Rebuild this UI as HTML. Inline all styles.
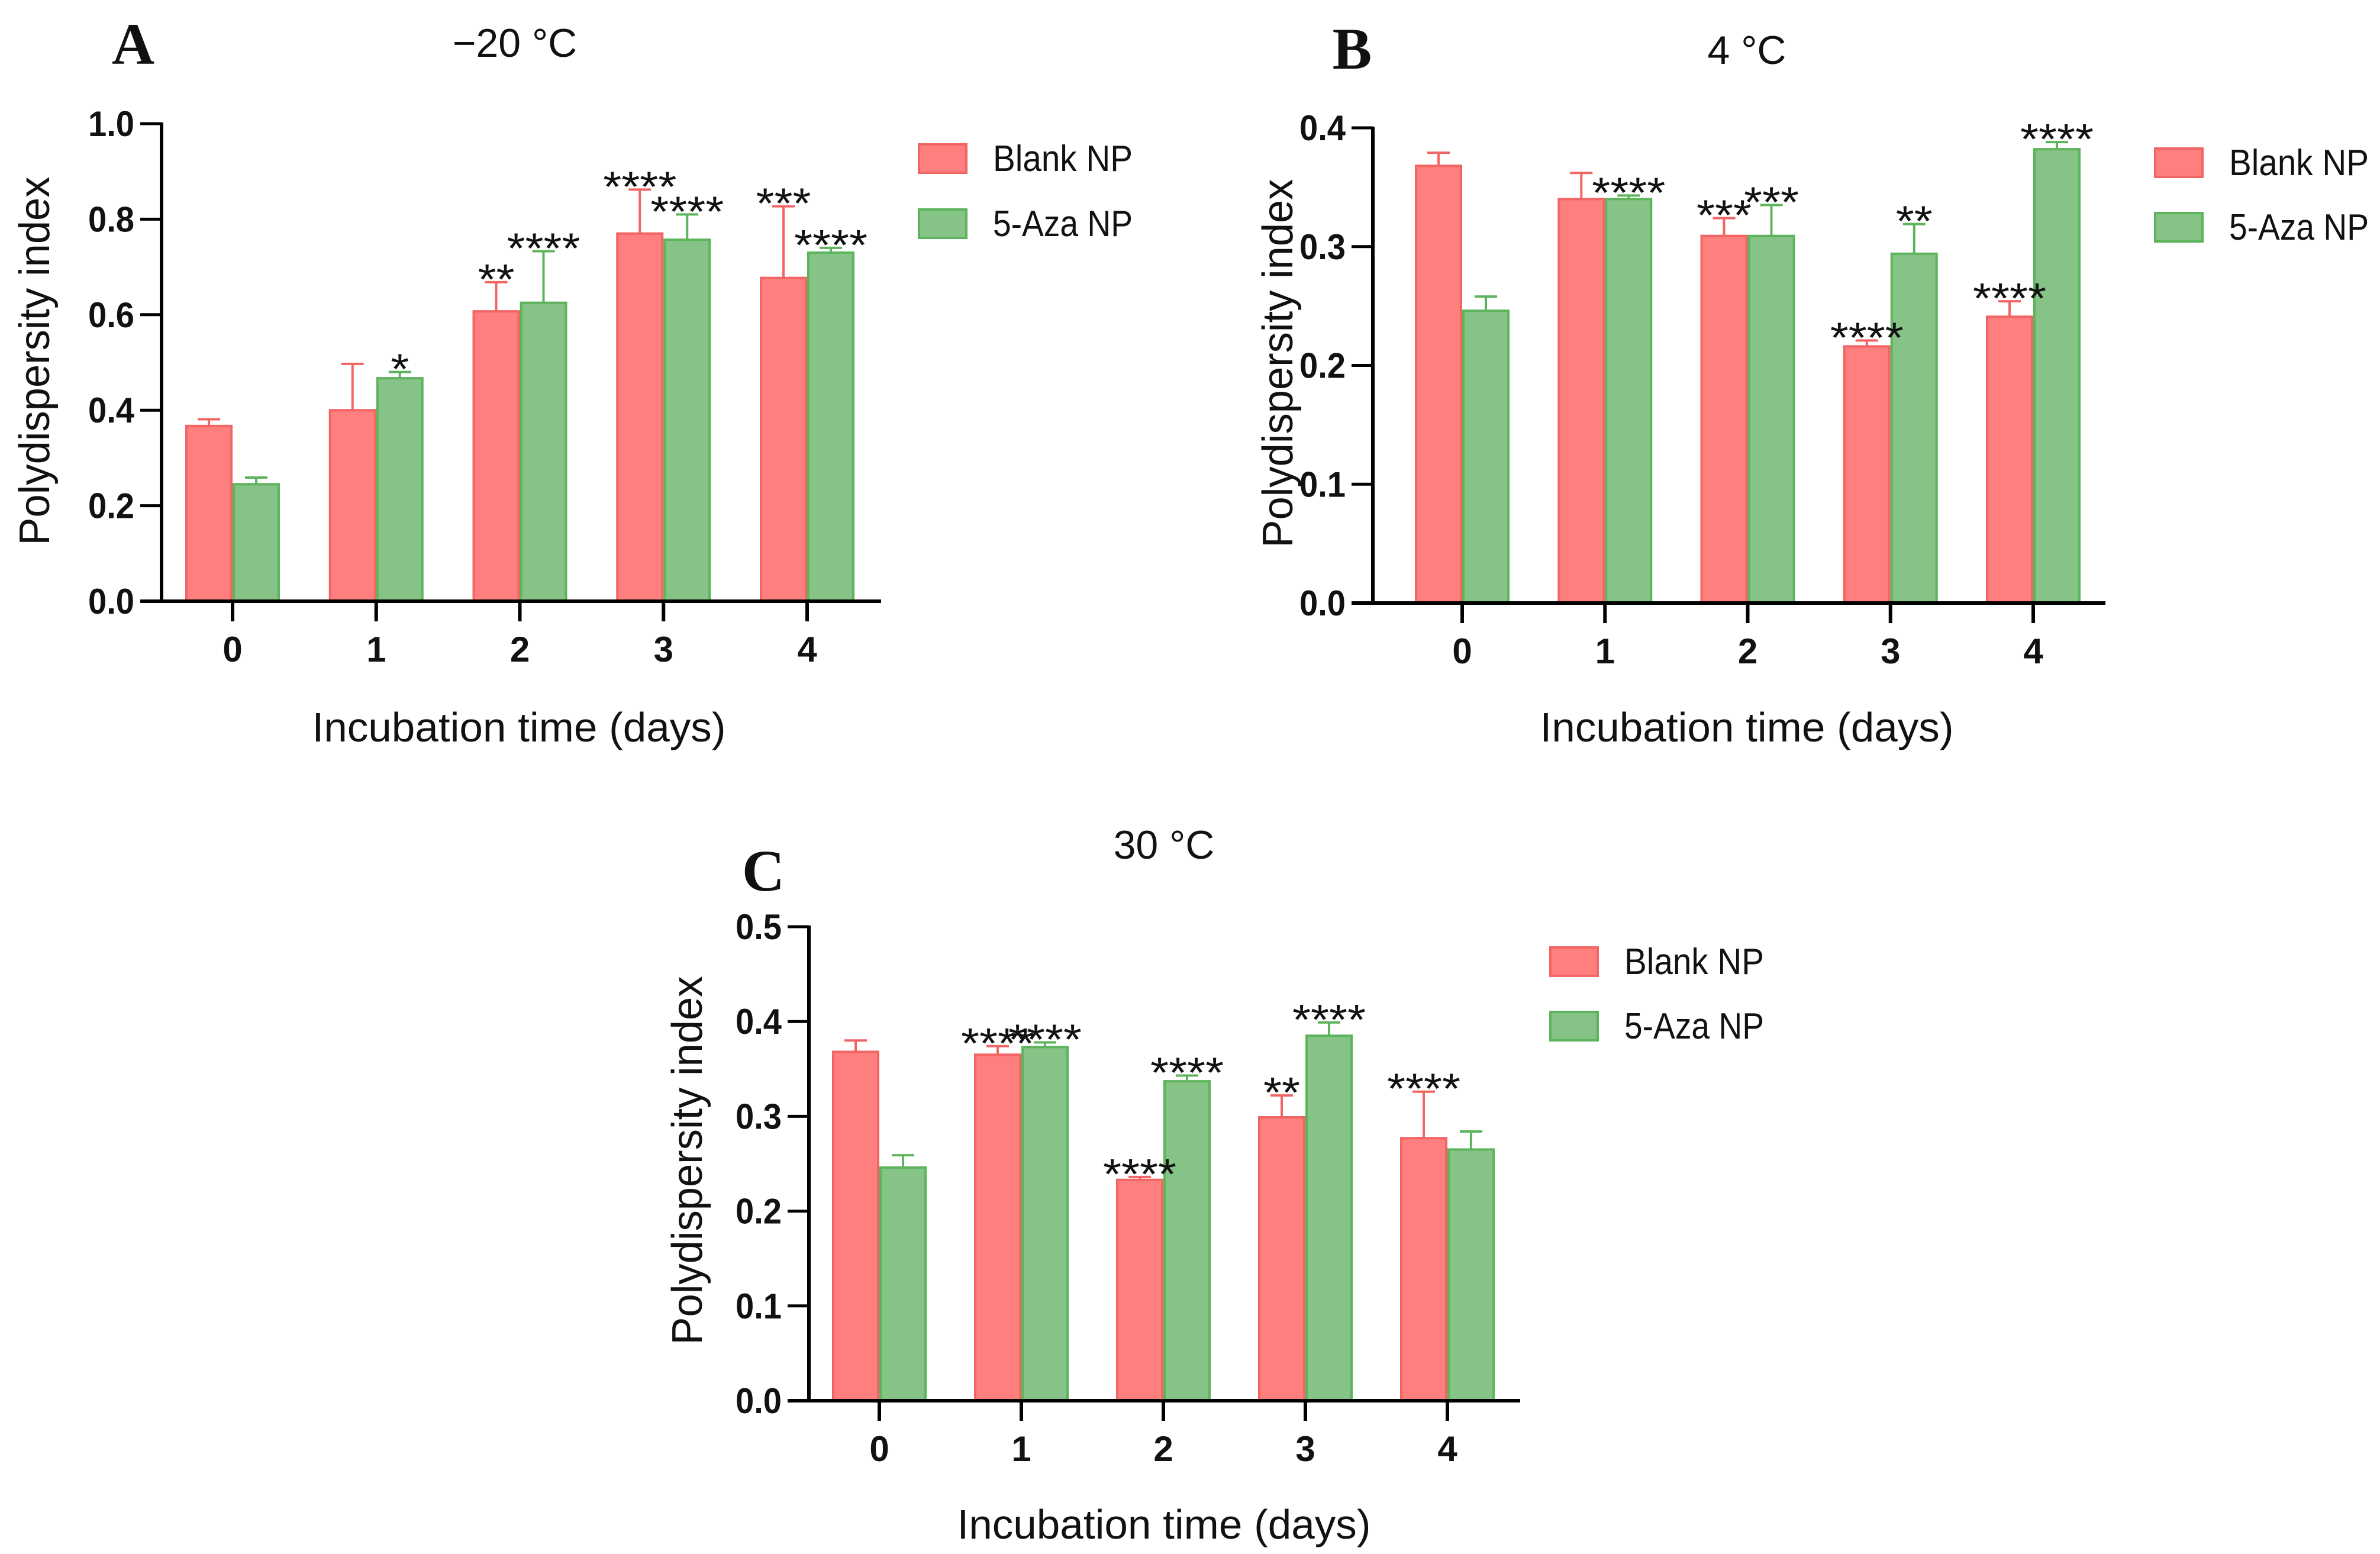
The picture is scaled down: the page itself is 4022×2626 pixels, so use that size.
<!DOCTYPE html>
<html><head><meta charset="utf-8"><style>
html,body{margin:0;padding:0;background:#fff;}
svg{display:block;}
text{font-family:"Liberation Sans",sans-serif;fill:#111;}
</style></head><body>
<svg id="fig" xmlns="http://www.w3.org/2000/svg" width="4022" height="2626" viewBox="0 0 4022 2626">
<rect width="4022" height="2626" fill="#fff"/>
</svg>
<script>
const categories = ["0","1","2","3","4"];
const seriesNames = ["Blank NP","5-Aza NP"];
// Panel A (-20 °C)
const aBlank = [0.367, 0.400, 0.607, 0.770, 0.677];
const aBlankErr = [0.014, 0.097, 0.061, 0.092, 0.150];
const aAza = [0.245, 0.467, 0.625, 0.757, 0.730];
const aAzaErr = [0.014, 0.013, 0.108, 0.053, 0.010];
const aBlankStars = ["", "", "**", "****", "***"];
const aAzaStars = ["", "*", "****", "****", "****"];
const aTicks = ["0.0","0.2","0.4","0.6","0.8","1.0"];
// Panel B (4 °C)
const bBlank = [0.368, 0.340, 0.309, 0.216, 0.241];
const bBlankErr = [0.011, 0.022, 0.015, 0.005, 0.013];
const bAza = [0.246, 0.340, 0.309, 0.294, 0.382];
const bAzaErr = [0.012, 0.003, 0.026, 0.025, 0.006];
const bBlankStars = ["", "", "***", "****", "****"];
const bAzaStars = ["", "****", "***", "**", "****"];
const bTicks = ["0.0","0.1","0.2","0.3","0.4"];
// Panel C (30 °C)
const cBlank = [0.368, 0.365, 0.233, 0.299, 0.277];
const cBlankErr = [0.012, 0.009, 0.003, 0.023, 0.049];
const cAza = [0.246, 0.373, 0.337, 0.385, 0.265];
const cAzaErr = [0.013, 0.005, 0.006, 0.014, 0.019];
const cBlankStars = ["", "****", "****", "**", "****"];
const cAzaStars = ["", "****", "****", "****", ""];
const cTicks = ["0.0","0.1","0.2","0.3","0.4","0.5"];

const NS = "http://www.w3.org/2000/svg";
const svg = document.getElementById('fig');
function mk(tag, attrs, parent, txt){
  const e = document.createElementNS(NS, tag);
  for (const k in attrs) e.setAttribute(k, attrs[k]);
  if (txt !== undefined) e.textContent = txt;
  (parent || svg).appendChild(e);
  return e;
}
const RED = "#FF7F7F", REDS = "#F26565", GRN = "#86C386", GRNS = "#5DB45D";

function panel(p){
  const g = mk('g', {});
  
  
  const yMax = parseFloat(p.ticks[p.ticks.length-1]);
  const yS = v => p.y0 - (p.y0 - p.yTop) * v / yMax;
  const xS = i => p.cat0 + p.step * i;
  const bw = 80;
  const series = [[p.blank, p.blankErr, p.blankStars, RED, REDS, -1, 'blank'], [p.aza, p.azaErr, p.azaStars, GRN, GRNS, 0, 'aza']];
  series.forEach(s => {
    s[0].forEach((v, i) => {
      const x = xS(i) + s[5] * bw;
      const top = yS(v), et = yS(v + s[1][i]);
      const eb = mk('line', {x1: x + bw/2, x2: x + bw/2, y1: top, y2: et, stroke: s[4], 'stroke-width': 4}, g);
      
      
      const cap = mk('line', {x1: x + bw/2 - 19, x2: x + bw/2 + 19, y1: et, y2: et, stroke: s[4], 'stroke-width': 4}, g);
      
      
      const r = mk('rect', {x: x + 2, y: top, width: bw - 4, height: p.y0 - top, fill: s[3], stroke: s[4], 'stroke-width': 4}, g);
      
      
    });
  });
  series.forEach(s => {
    s[0].forEach((v, i) => {
      const x = xS(i) + s[5] * bw;
      const et = yS(v + s[1][i]);
      const st = s[2][i];
      if (st) {
        const t = mk('text', {x: x + bw/2, y: et + 20, 'text-anchor': 'middle', 'font-size': 72, textLength: st.length * 31, lengthAdjust: 'spacingAndGlyphs'}, g, st);
        
        
      }
    });
  });
  // axes
  const ya = mk('line', {x1: p.axX, x2: p.axX, y1: p.yTop - 2, y2: p.y0 + 3, stroke: '#000', 'stroke-width': 6}, g);
  
  
  const xa = mk('line', {x1: p.axX - 36, x2: p.xEnd, y1: p.y0, y2: p.y0, stroke: '#000', 'stroke-width': 6}, g);
  
  
  p.ticks.forEach(t => {
    const y = yS(parseFloat(t));
    const tl = mk('line', {x1: p.axX - 36, x2: p.axX, y1: y, y2: y, stroke: '#000', 'stroke-width': 5}, g);
    
    
    const tx = mk('text', {x: p.axX - 46, y: y + 21, 'text-anchor': 'end', 'font-size': 60, 'font-weight': 'bold', textLength: 78, lengthAdjust: 'spacingAndGlyphs'}, g, t);
    
    
  });
  categories.forEach((c, i) => {
    const x = xS(i);
    const tl = mk('line', {x1: x, x2: x, y1: p.y0, y2: p.y0 + 34, stroke: '#000', 'stroke-width': 6}, g);
    
    
    const tx = mk('text', {x: x, y: p.y0 + 102, 'text-anchor': 'middle', 'font-size': 60, 'font-weight': 'bold'}, g, c);
    
    
  });
  const yt = mk('text', {x: 0, y: 0, 'text-anchor': 'middle', 'font-size': 72, textLength: 623, lengthAdjust: 'spacingAndGlyphs', transform: 'translate(' + (p.ytX + 25) + ',' + p.ytY + ') rotate(-90)'}, g, 'Polydispersity index');
  
  
  const xt = mk('text', {x: p.xtX, y: p.xtY + 24, 'text-anchor': 'middle', 'font-size': 70, textLength: 699, lengthAdjust: 'spacingAndGlyphs'}, g, 'Incubation time (days)');
  
  
  const ti = mk('text', {x: p.tX, y: p.tY + 24, 'text-anchor': 'middle', 'font-size': 68}, g, p.title);
  
  
  const le = mk('text', {x: p.lX, y: p.lY + 32, 'text-anchor': 'middle', 'font-size': 100, 'font-weight': 'bold', style: 'font-family:"Liberation Serif",serif'}, g, p.id);
  
  
  // legend
  [[RED, REDS, p.legY[0]], [GRN, GRNS, p.legY[1]]].forEach((l, k) => {
    const sw = mk('rect', {x: p.legX, y: l[2], width: 80, height: 48, fill: l[0], stroke: l[1], 'stroke-width': 4}, g);
    
    
    const lt = mk('text', {x: p.legX + 125, y: l[2] + 45, 'font-size': 62, textLength: 236, lengthAdjust: 'spacingAndGlyphs'}, g, seriesNames[k]);
    
    
  });
}

panel({id:'A', title:'\u221220 \u00B0C', blank:aBlank, blankErr:aBlankErr, aza:aAza, azaErr:aAzaErr, blankStars:aBlankStars, azaStars:aAzaStars, ticks:aTicks,
  axX:273, y0:1016, yTop:209, xEnd:1489, cat0:393, step:242.75,
  ytX:58, ytY:610, xtX:877, xtY:1229, tX:870, tY:72, lX:225, lY:76, legX:1553, legY:[244,354]});
panel({id:'B', title:'4 \u00B0C', blank:bBlank, blankErr:bBlankErr, aza:bAza, azaErr:bAzaErr, blankStars:bBlankStars, azaStars:bAzaStars, ticks:bTicks,
  axX:2320, y0:1019, yTop:216, xEnd:3558, cat0:2471, step:241.25,
  ytX:2159, ytY:614, xtX:2952, xtY:1229, tX:2952, tY:84, lX:2285, lY:84, legX:3642, legY:[251,360]});
panel({id:'C', title:'30 \u00B0C', blank:cBlank, blankErr:cBlankErr, aza:cAza, azaErr:cAzaErr, blankStars:cBlankStars, azaStars:cAzaStars, ticks:cTicks,
  axX:1367, y0:2367, yTop:1566, xEnd:2569, cat0:1486, step:240,
  ytX:1161, ytY:1961, xtX:1967, xtY:2576, tX:1967, tY:1427, lX:1290, lY:1473, legX:2620, legY:[1601,1710]});
</script>
</body></html>
